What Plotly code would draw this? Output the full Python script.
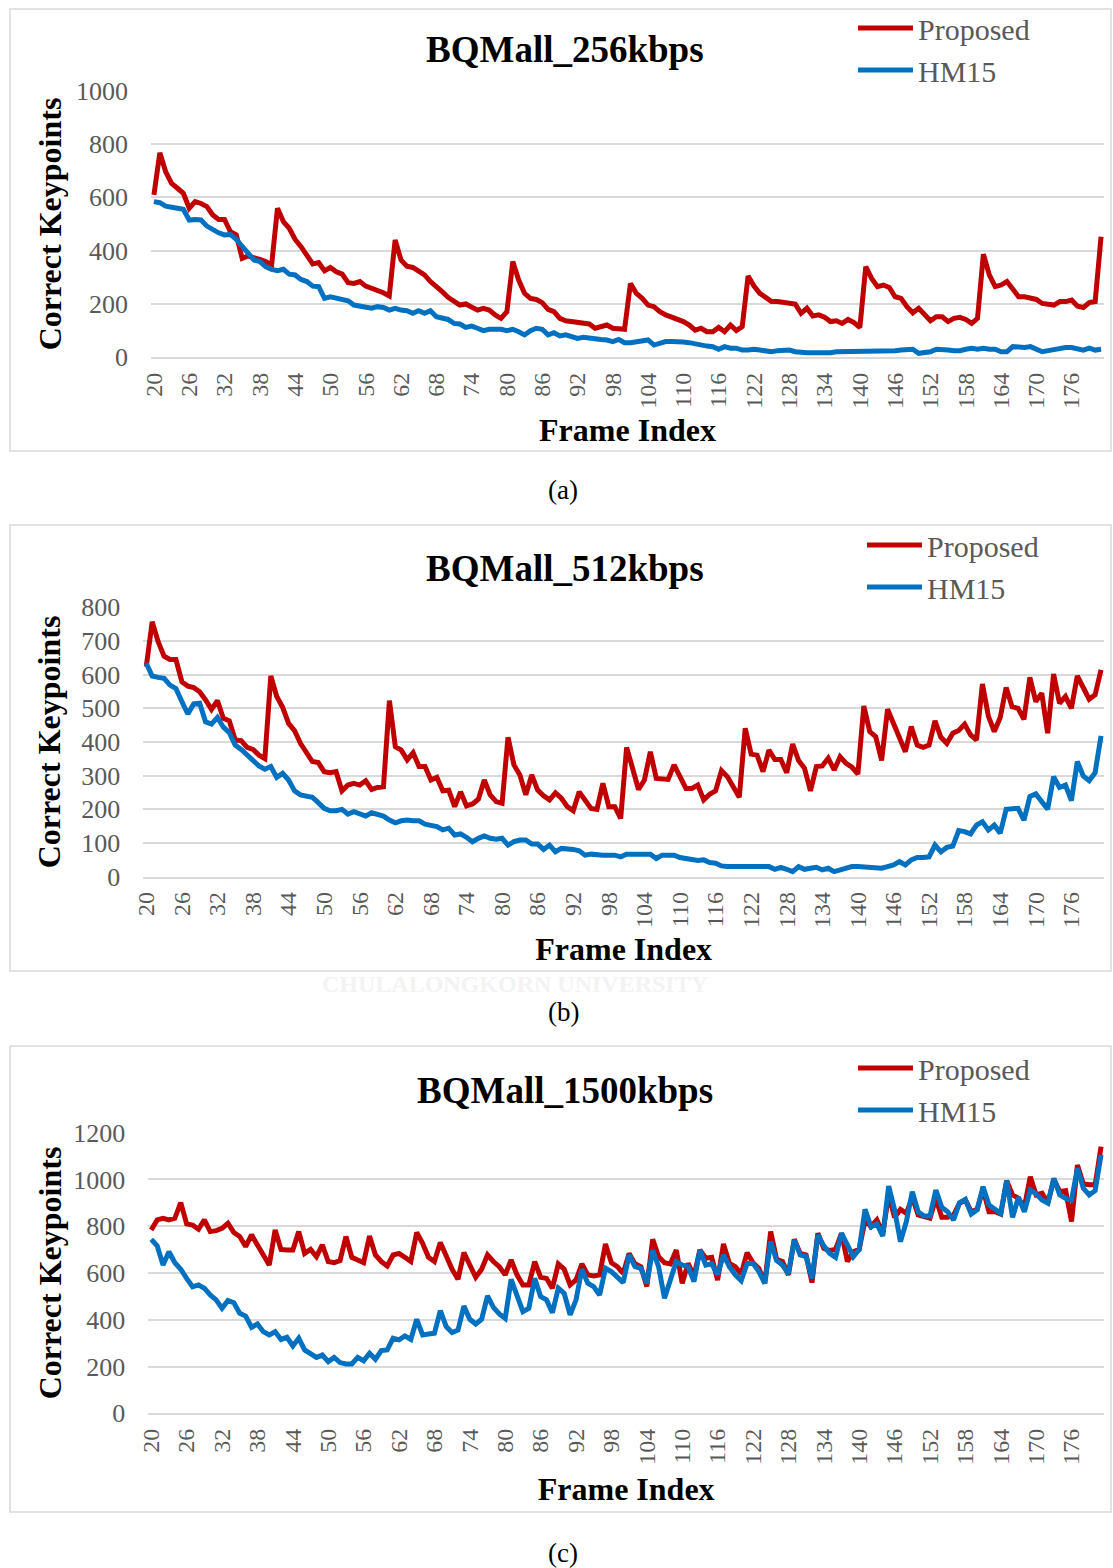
import plotly.graph_objects as go

# ---------------- data ----------------
frames = list(range(20, 182))
tick_vals = list(range(20, 177, 6))
tick_text = [str(v) for v in tick_vals]

series_names = ["Proposed", "HM15"]
titles = ["BQMall_256kbps", "BQMall_512kbps", "BQMall_1500kbps"]
captions = ["(a)", "(b)", "(c)"]

a_proposed = [
    609, 767, 696, 652, 634, 615, 559, 584, 577, 565,
    534, 517, 517, 471, 459, 371, 380, 371, 367, 359,
    346, 559, 509, 484, 442, 415, 381, 350, 355, 325,
    337, 321, 312, 280, 277, 284, 267, 259, 252, 242,
    230, 440, 365, 342, 337, 325, 309, 284, 262, 246,
    225, 211, 196, 200, 190, 177, 184, 177, 159, 146,
    171, 359, 290, 240, 221, 217, 205, 180, 171, 146,
    137, 134, 127, 127, 125, 109, 115, 121, 109, 105,
    105, 277, 240, 221, 196, 190, 171, 159, 150, 146,
    134, 121, 102, 109, 96, 96, 112, 96, 121, 100,
    115, 305, 267, 240, 227, 209, 209, 205, 200, 200,
    165, 184, 155, 159, 150, 134, 137, 127, 142, 130,
    112, 340, 296, 265, 271, 262, 227, 221, 190, 167,
    184, 159, 137, 152, 152, 134, 146, 150, 142, 127,
    146, 387, 309, 265, 271, 284, 255, 227, 227, 221,
    217, 202, 200, 196, 209, 209, 215, 192, 187, 205,
    209, 452,
]
a_hm15 = [
    584, 580, 567, 561, 559, 555, 515, 517, 515, 492,
    477, 467, 459, 461, 442, 415, 387, 365, 359, 340,
    330, 325, 330, 312, 309, 292, 284, 267, 265, 221,
    227, 221, 217, 212, 196, 192, 192, 184, 190, 187,
    177, 184, 177, 175, 165, 175, 165, 175, 152, 146,
    142, 127, 125, 112, 117, 109, 100, 105, 105, 105,
    100, 105, 96, 84, 100, 109, 105, 84, 92, 80,
    84, 75, 71, 75, 71, 71, 67, 65, 59, 67,
    55, 55, 59, 59, 65, 46, 52, 59, 59, 56,
    57, 55, 50, 46, 42, 40, 30, 40, 34, 34,
    27, 27, 30, 27, 25, 21, 25, 25, 27, 21,
    17, 17, 17, 17, 15, 17, 21, 21, 21, 21,
    21, 25, 21, 25, 21, 21, 25, 27, 30, 30,
    15, 17, 21, 30, 30, 27, 25, 25, 30, 34,
    30, 34, 30, 30, 21, 21, 40, 37, 37, 40,
    30, 21, 25, 30, 34, 37, 37, 34, 27, 34,
    27, 30,
]

b_proposed = [
    624, 757, 698, 655, 645, 645, 579, 566, 562, 549,
    525, 497, 523, 470, 463, 406, 404, 384, 378, 361,
    351, 596, 535, 503, 455, 434, 396, 366, 342, 339,
    312, 309, 312, 255, 272, 277, 272, 285, 259, 265,
    267, 523, 386, 376, 347, 368, 327, 327, 287, 295,
    255, 257, 208, 252, 210, 216, 230, 287, 243, 223,
    218, 414, 332, 302, 243, 302, 257, 240, 228, 249,
    233, 208, 196, 252, 228, 203, 200, 277, 208, 208,
    173, 384, 322, 259, 287, 371, 292, 292, 289, 332,
    299, 262, 262, 272, 228, 245, 255, 315, 297, 267,
    236, 441, 364, 361, 312, 376, 348, 348, 309, 394,
    345, 322, 255, 327, 329, 352, 317, 356, 337, 325,
    305, 507, 431, 416, 345, 497, 455, 411, 371, 446,
    391, 384, 391, 463, 414, 396, 426, 434, 453, 421,
    406, 572, 477, 431, 473, 562, 505, 500, 467, 592,
    520, 545, 426, 602, 515, 535, 500, 596, 559, 527,
    540, 614,
]
b_hm15 = [
    634, 596, 592, 589, 569, 559, 520, 483, 513, 515,
    460, 453, 473, 444, 428, 391, 378, 361, 348, 329,
    319, 327, 295, 307, 287, 255, 243, 240, 236, 220,
    203, 196, 196, 200, 186, 193, 186, 180, 190, 186,
    180, 168, 160, 166, 168, 166, 166, 156, 153, 149,
    139, 144, 124, 127, 117, 104, 114, 121, 114, 111,
    114, 94, 104, 109, 109, 97, 97, 81, 94, 74,
    84, 84, 81, 77, 64, 67, 64, 64, 64, 64,
    59, 67, 67, 67, 67, 67, 54, 64, 64, 64,
    57, 54, 50, 48, 50, 42, 40, 32, 30, 30,
    30, 30, 30, 30, 30, 30, 22, 28, 22, 15,
    30, 22, 25, 28, 20, 25, 15, 20, 25, 30,
    30, 28, 28, 25, 25, 30, 35, 45, 35, 50,
    57, 57, 59, 94, 74, 87, 91, 137, 134, 127,
    153, 163, 139, 153, 129, 200, 200, 203, 168, 238,
    246, 223, 200, 297, 265, 272, 226, 342, 299, 285,
    309, 418,
]

c_proposed = [
    784, 827, 834, 827, 834, 901, 810, 805, 787, 827,
    777, 781, 791, 813, 773, 756, 713, 763, 720, 673,
    634, 784, 701, 698, 698, 777, 684, 701, 670, 720,
    649, 644, 653, 756, 667, 656, 644, 758, 677, 649,
    630, 677, 684, 667, 649, 773, 727, 667, 649, 730,
    667, 616, 573, 687, 634, 582, 616, 677, 649, 627,
    592, 656, 592, 549, 549, 649, 582, 577, 535, 639,
    616, 549, 570, 639, 592, 587, 592, 724, 644, 627,
    599, 684, 639, 627, 542, 744, 670, 644, 639, 698,
    556, 641, 587, 698, 663, 667, 570, 724, 641, 627,
    596, 687, 644, 620, 556, 777, 659, 649, 592, 744,
    684, 677, 559, 770, 706, 696, 701, 770, 649, 691,
    701, 827, 798, 827, 770, 934, 838, 872, 855, 924,
    848, 841, 834, 919, 838, 838, 848, 898, 912, 862,
    872, 958, 862, 862, 852, 995, 934, 919, 881, 1012,
    934, 941, 901, 1001, 948, 952, 820, 1062, 981, 977,
    977, 1140,
]
c_hm15 = [
    744, 716, 634, 691, 644, 616, 577, 541, 549, 535,
    506, 485, 449, 482, 473, 428, 416, 368, 382, 349,
    335, 349, 316, 325, 288, 321, 271, 257, 239, 249,
    221, 239, 217, 211, 211, 239, 225, 257, 231, 268,
    271, 321, 314, 331, 316, 402, 335, 339, 342, 439,
    371, 345, 356, 459, 402, 382, 402, 502, 453, 425,
    406, 573, 506, 435, 449, 577, 499, 485, 430, 535,
    513, 421, 485, 616, 556, 542, 506, 620, 606, 584,
    559, 677, 627, 620, 556, 698, 627, 492, 570, 649,
    634, 627, 563, 698, 634, 639, 592, 677, 627, 592,
    567, 641, 641, 606, 556, 734, 653, 634, 596, 741,
    677, 670, 577, 763, 716, 684, 667, 770, 720, 670,
    701, 872, 798, 810, 758, 972, 870, 734, 820, 948,
    862, 844, 844, 955, 881, 862, 827, 901, 915, 852,
    870, 969, 891, 872, 855, 995, 838, 924, 862, 955,
    938, 912, 898, 1005, 934, 919, 912, 1048, 962, 934,
    952, 1105,
]

y_max = [1000, 800, 1200]
y_dtick = [200, 100, 200]

# ---------------- layout helpers ----------------
W, H = 1113, 1568
FONT = "Liberation Serif"
RED = "#C00000"
BLUE = "#0070C0"
GRID = "#D9D9D9"
GREY_TXT = "#595959"


def fx(px):
    return px / W


def fy(py):
    return 1 - py / H


panels = [
    dict(prop=a_proposed, hm=a_hm15, xdom=(151, 1104), ydom=(90.7, 357.3),
         box=(10, 9, 1111, 451), title_y=50, leg=(853, 2), cap_y=490,
         ystand=4, xstand=11),
    dict(prop=b_proposed, hm=b_hm15, xdom=(143.3, 1104), ydom=(607.3, 876.7),
         box=(10, 525, 1111, 971), title_y=568, leg=(862, 519), cap_y=1012,
         ystand=11, xstand=11),
    dict(prop=c_proposed, hm=c_hm15, xdom=(148.3, 1104), ydom=(1132.7, 1413.3),
         box=(10, 1046, 1111, 1512), title_y=1090, leg=(853, 1042), cap_y=1553,
         ystand=2, xstand=14),
]

fig = go.Figure()
shapes = []
annotations = []
layout_axes = {}

for i, p in enumerate(panels):
    k = "" if i == 0 else str(i + 1)
    xa, ya = "x" + k, "y" + k
    leg = "legend" + k
    for name, vals, color in ((series_names[0], p["prop"], RED),
                              (series_names[1], p["hm"], BLUE)):
        fig.add_trace(go.Scatter(
            x=frames, y=vals, mode="lines", name=name,
            line=dict(color=color, width=5, shape="linear"),
            xaxis=xa, yaxis=ya, legend=leg,
        ))

    layout_axes["xaxis" + k] = dict(
        domain=[fx(p["xdom"][0]), fx(p["xdom"][1])],
        anchor=ya, range=[19.5, 181.5], tickmode="array",
        tickvals=tick_vals, ticktext=tick_text, tickangle=-90,
        tickfont=dict(family=FONT, size=24, color=GREY_TXT),
        showgrid=False, zeroline=False, showline=True, linecolor=GRID,
        linewidth=1.5, ticks="", ticklabelstandoff=4, automargin=False,
        title=dict(text="<b>Frame Index</b>", standoff=p["xstand"],
                   font=dict(family=FONT, size=32, color="black")),
        fixedrange=True,
    )
    layout_axes["yaxis" + k] = dict(
        domain=[fy(p["ydom"][1]), fy(p["ydom"][0])],
        anchor=xa, range=[0, y_max[i]], dtick=y_dtick[i], tick0=0,
        tickfont=dict(family=FONT, size=26, color=GREY_TXT),
        showgrid=True, gridcolor=GRID, gridwidth=1.5,
        zeroline=True, zerolinecolor=GRID, zerolinewidth=1.5,
        showline=False, ticks="", ticklabelstandoff=22, automargin=False,
        title=dict(text="<b>Correct Keypoints</b>", standoff=p["ystand"],
                   font=dict(family=FONT, size=32, color="black")),
        fixedrange=True,
    )
    layout_axes[leg] = dict(
        x=fx(p["leg"][0]), y=fy(p["leg"][1]), xanchor="left", yanchor="top",
        bgcolor="rgba(0,0,0,0)", font=dict(family=FONT, size=30, color=GREY_TXT),
        itemwidth=55, tracegroupgap=0,
    )

    x0, y0, x1, y1 = p["box"]
    shapes.append(dict(type="rect", xref="paper", yref="paper",
                       x0=fx(x0), x1=fx(x1), y0=fy(y1), y1=fy(y0),
                       line=dict(color=GRID, width=1.5), layer="below"))
    annotations.append(dict(text="<b>" + titles[i] + "</b>", xref="paper", yref="paper",
                            x=fx(565), y=fy(p["title_y"]), xanchor="center", yanchor="middle",
                            showarrow=False, font=dict(family=FONT, size=37, color="black")))
    annotations.append(dict(text=captions[i], xref="paper", yref="paper",
                            x=fx(563), y=fy(p["cap_y"]), xanchor="center", yanchor="middle",
                            showarrow=False, font=dict(family=FONT, size=27, color="black")))

annotations.append(dict(text="<b>CHULALONGKORN UNIVERSITY</b>", xref="paper", yref="paper",
                        x=fx(515), y=fy(984), xanchor="center", yanchor="middle",
                        showarrow=False, font=dict(family=FONT, size=24, color="#F3F3F3")))

fig.update_layout(
    width=W, height=H, autosize=False,
    margin=dict(l=0, r=0, t=0, b=0, pad=0, autoexpand=False),
    paper_bgcolor="white", plot_bgcolor="white",
    showlegend=True,
    shapes=shapes, annotations=annotations,
    font=dict(family=FONT),
    **layout_axes,
)

fig.write_html(
    "out.html",
    config={"displayModeBar": False},
    post_script="document.body.style.margin='0';document.body.style.padding='0';",
)
